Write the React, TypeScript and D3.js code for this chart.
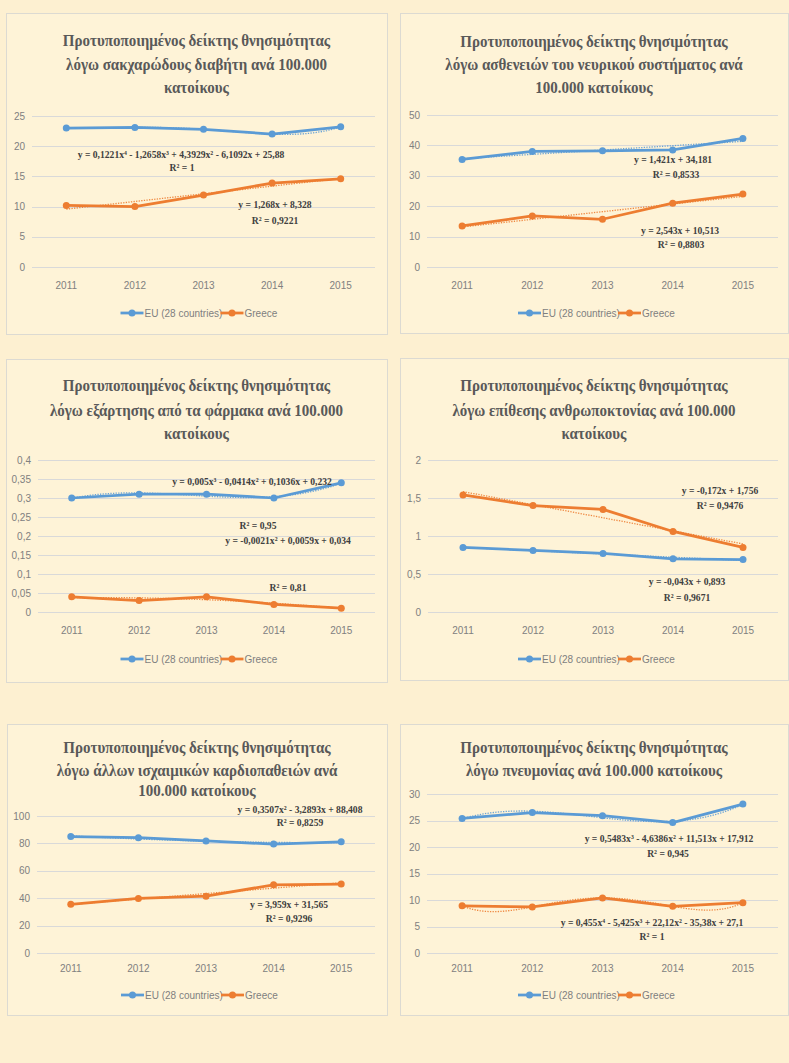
import * as d3 from 'd3'

const years = ['2011', '2012', '2013', '2014', '2015']
const seriesNames = ['EU (28 countries)', 'Greece']
const seriesColors = ['#5B9BD5', '#ED7D31']

const diabetesTitle = ['Προτυποποιημένος δείκτης θνησιμότητας', 'λόγω σακχαρώδους διαβήτη ανά 100.000', 'κατοίκους']
const diabetesEU = [23.0, 23.1, 22.8, 22.0, 23.2]
const diabetesGR = [10.2, 10.0, 11.9, 13.9, 14.6]
const diabetesDegree = [4, 1]
const diabetesTicks = [0, 5, 10, 15, 20, 25]
const diabetesEq = ['y = 0,1221x⁴ - 1,2658x³ + 4,3929x² - 6,1092x + 25,88', 'R² = 1', 'y = 1,268x + 8,328', 'R² = 0,9221']

const nervousTitle = ['Προτυποποιημένος δείκτης θνησιμότητας', 'λόγω ασθενειών του νευρικού συστήματος ανά', '100.000 κατοίκους']
const nervousEU = [35.4, 38.0, 38.2, 38.5, 42.3]
const nervousGR = [13.5, 16.8, 15.7, 21.0, 24.0]
const nervousDegree = [1, 1]
const nervousTicks = [0, 10, 20, 30, 40, 50]
const nervousEq = ['y = 1,421x + 34,181', 'R² = 0,8533', 'y = 2,543x + 10,513', 'R² = 0,8803']

const drugsTitle = ['Προτυποποιημένος δείκτης θνησιμότητας', 'λόγω εξάρτησης από τα φάρμακα ανά 100.000', 'κατοίκους']
const drugsEU = [0.30, 0.31, 0.31, 0.30, 0.34]
const drugsGR = [0.04, 0.03, 0.04, 0.02, 0.01]
const drugsDegree = [3, 2]
const drugsTicks = [0, 0.05, 0.1, 0.15, 0.2, 0.25, 0.3, 0.35, 0.4]
const drugsEq = ['y = 0,005x³ - 0,0414x² + 0,1036x + 0,232', 'R² = 0,95', 'y = -0,0021x² + 0,0059x + 0,034', 'R² = 0,81']

const homicideTitle = ['Προτυποποιημένος δείκτης θνησιμότητας', 'λόγω επίθεσης ανθρωποκτονίας ανά 100.000', 'κατοίκους']
const homicideEU = [0.85, 0.81, 0.77, 0.70, 0.69]
const homicideGR = [1.54, 1.40, 1.35, 1.06, 0.85]
const homicideDegree = [1, 1]
const homicideTicks = [0, 0.5, 1, 1.5, 2]
const homicideEq = ['y = -0,043x + 0,893', 'R² = 0,9671', 'y = -0,172x + 1,756', 'R² = 0,9476']

const ischemicTitle = ['Προτυποποιημένος δείκτης θνησιμότητας', 'λόγω άλλων ισχαιμικών καρδιοπαθειών ανά', '100.000 κατοίκους']
const ischemicEU = [85.0, 84.2, 81.8, 79.5, 81.2]
const ischemicGR = [35.5, 39.8, 41.5, 49.8, 50.3]
const ischemicDegree = [2, 1]
const ischemicTicks = [0, 20, 40, 60, 80, 100]
const ischemicEq = ['y = 0,3507x² - 3,2893x + 88,408', 'R² = 0,8259', 'y = 3,959x + 31,565', 'R² = 0,9296']

const pneumoniaTitle = ['Προτυποποιημένος δείκτης θνησιμότητας', 'λόγω πνευμονίας ανά 100.000 κατοίκους']
const pneumoniaEU = [25.4, 26.5, 25.9, 24.6, 28.1]
const pneumoniaGR = [8.9, 8.7, 10.4, 8.8, 9.5]
const pneumoniaDegree = [3, 4]
const pneumoniaTicks = [0, 5, 10, 15, 20, 25, 30]
const pneumoniaEq = ['y = 0,5483x³ - 4,6386x² + 11,513x + 17,912', 'R² = 0,945', 'y = 0,455x⁴ - 5,425x³ + 22,12x² - 35,38x + 27,1', 'R² = 1']

// least squares polynomial fit, like the Excel trendline
function polyfit(ys: number[], deg: number) {
  const xs = ys.map((_, i) => i + 1)
  const n = deg + 1
  const A = d3.range(n).map(i => d3.range(n).map(j => d3.sum(xs, x => Math.pow(x, i + j))))
  const b = d3.range(n).map(i => d3.sum(xs, (x, k) => Math.pow(x, i) * ys[k]))
  for (let c = 0; c < n; c++) {
    let p = c
    for (let r = c + 1; r < n; r++) if (Math.abs(A[r][c]) > Math.abs(A[p][c])) p = r
    ;[A[c], A[p]] = [A[p], A[c]]
    ;[b[c], b[p]] = [b[p], b[c]]
    for (let r = c + 1; r < n; r++) {
      const f = A[r][c] / A[c][c]
      for (let k = c; k < n; k++) A[r][k] -= f * A[c][k]
      b[r] -= f * b[c]
    }
  }
  const coef = new Array(n).fill(0)
  for (let r = n - 1; r >= 0; r--) {
    let s = b[r]
    for (let k = r + 1; k < n; k++) s -= A[r][k] * coef[k]
    coef[r] = s / A[r][r]
  }
  return (x: number) => coef.reduce((acc, c, i) => acc + c * Math.pow(x, i), 0)
}

const fmt = (v: number) => String(+v.toFixed(2)).replace('.', ',')

interface PanelProps {
  box: [number, number, number, number]
  plot: [number, number, number, number] // left, right, top(max), bottom(0)
  titleLines: string[]
  titleY: number[]
  eu: number[]
  gr: number[]
  degree: number[]
  ticks: number[]
  eq: string[]
  eqPos: [number, number][]
  yearY: number
  legendY: number
}

function Panel(p: PanelProps) {
  const [bx, by, bw, bh] = p.box
  const [left, right, top, bottom] = p.plot
  const cx = bx + bw / 2
  const x = d3.scalePoint<string>().domain(years).range([left, right]).padding(0.5)
  const y = d3.scaleLinear().domain([0, d3.max(p.ticks)!]).range([bottom, top])
  const xt = d3.scaleLinear().domain([1, years.length]).range([x(years[0])!, x(years[years.length - 1])!])
  const line = d3.line<number>().x((_, i) => x(years[i])!).y(d => y(d))
  const series = [p.eu, p.gr]
  const legendX = cx - 76

  return (
    <g>
      <rect x={bx + 0.5} y={by + 0.5} width={bw} height={bh} fill="#FEF3D7" stroke="#DCDAD2" strokeWidth={1} />
      {p.titleLines.map((t, i) => (
        <text key={i} transform={`translate(${cx},${p.titleY[i]}) scale(0.91,1)`} dy="0.35em" textAnchor="middle"
          fontFamily="'Liberation Serif', serif" fontWeight="bold" fontSize={16.5} fill="#595959">{t}</text>
      ))}
      {p.ticks.map(t => (
        <g key={t}>
          <line x1={left} x2={right} y1={Math.round(y(t)) + 0.5} y2={Math.round(y(t)) + 0.5} stroke="#D9D9D9" strokeWidth={1} />
          <text x={left - 7} y={y(t)} dy="0.35em" textAnchor="end"
            fontFamily="'Liberation Sans Narrow', 'Liberation Sans', sans-serif" fontSize={10} fill="#808080">{fmt(t)}</text>
        </g>
      ))}
      {years.map(yr => (
        <text key={yr} x={x(yr)} y={p.yearY} dy="0.35em" textAnchor="middle"
          fontFamily="'Liberation Sans Narrow', 'Liberation Sans', sans-serif" fontSize={10} fill="#808080">{yr}</text>
      ))}
      {series.map((s, si) => (
        <g key={si}>
          <path d={line(s)!} fill="none" stroke={seriesColors[si]} strokeWidth={2.75} strokeLinejoin="round" />
          {s.map((v, i) => (
            <circle key={i} cx={x(years[i])} cy={y(v)} r={3.5} fill={seriesColors[si]} />
          ))}
        </g>
      ))}
      {series.map((s, si) => {
        const f = polyfit(s, p.degree[si])
        const pts = d3.range(1, 5.001, 0.05).map(t => [xt(t), y(f(t))] as [number, number])
        return (
          <path key={si} d={d3.line()(pts)!} fill="none" stroke={seriesColors[si]} strokeWidth={1.3}
            strokeDasharray="1.3 1.3" opacity={0.9} />
        )
      })}
      {p.eq.map((t, i) => (
        <text key={i} transform={`translate(${p.eqPos[i][0]},${p.eqPos[i][1]}) scale(0.96,1)`} dy="0.35em" textAnchor="middle"
          fontFamily="'Liberation Serif', serif" fontWeight="bold" fontSize={10} fill="#404040">{t}</text>
      ))}
      {seriesNames.map((n, i) => {
        const lx = legendX + i * 100
        return (
          <g key={n}>
            <line x1={lx} x2={lx + 23} y1={p.legendY} y2={p.legendY} stroke={seriesColors[i]} strokeWidth={2.75} />
            <circle cx={lx + 11.5} cy={p.legendY} r={3.5} fill={seriesColors[i]} />
            <text x={lx + 24} y={p.legendY} dy="0.35em"
              fontFamily="'Liberation Sans Narrow', 'Liberation Sans', sans-serif" fontSize={10} fill="#7F7F7F">{n}</text>
          </g>
        )
      })}
    </g>
  )
}

export default function App() {
  return (
    <svg width={789} height={1063} style={{ position: 'absolute', left: 0, top: 0, background: '#FDF0D1' }}>
      <Panel box={[6, 13, 381, 321]} plot={[32, 375, 116, 267]} titleLines={diabetesTitle} titleY={[40, 64, 87]}
        eu={diabetesEU} gr={diabetesGR} degree={diabetesDegree} ticks={diabetesTicks} eq={diabetesEq}
        eqPos={[[181, 154], [182, 167], [275, 204], [275, 220]]} yearY={285} legendY={313} />
      <Panel box={[400, 13, 388, 320]} plot={[427, 778, 115, 267]} titleLines={nervousTitle} titleY={[41, 64, 87]}
        eu={nervousEU} gr={nervousGR} degree={nervousDegree} ticks={nervousTicks} eq={nervousEq}
        eqPos={[[673, 159], [676, 174], [680, 230], [681, 244]]} yearY={285} legendY={313} />
      <Panel box={[6, 359, 381, 323]} plot={[38, 375, 460, 612]} titleLines={drugsTitle} titleY={[385, 410, 433]}
        eu={drugsEU} gr={drugsGR} degree={drugsDegree} ticks={drugsTicks} eq={drugsEq}
        eqPos={[[252, 481], [258, 525], [288, 540], [288, 587]]} yearY={630} legendY={659} />
      <Panel box={[400, 358, 388, 322]} plot={[428, 778, 460, 612]} titleLines={homicideTitle} titleY={[385, 410, 433]}
        eu={homicideEU} gr={homicideGR} degree={homicideDegree} ticks={homicideTicks} eq={homicideEq}
        eqPos={[[687, 581], [687, 597], [720, 490], [720, 505]]} yearY={630} legendY={659} />
      <Panel box={[7, 724, 380, 291]} plot={[37, 375, 816, 953]} titleLines={ischemicTitle} titleY={[747, 770, 790]}
        eu={ischemicEU} gr={ischemicGR} degree={ischemicDegree} ticks={ischemicTicks} eq={ischemicEq}
        eqPos={[[300, 809], [300, 822], [289, 904], [289, 918]]} yearY={968} legendY={995} />
      <Panel box={[400, 724, 388, 291]} plot={[427, 778, 794, 953]} titleLines={pneumoniaTitle} titleY={[747, 770]}
        eu={pneumoniaEU} gr={pneumoniaGR} degree={pneumoniaDegree} ticks={pneumoniaTicks} eq={pneumoniaEq}
        eqPos={[[669, 838], [668, 853], [652, 922], [652, 936]]} yearY={968} legendY={995} />
    </svg>
  )
}
